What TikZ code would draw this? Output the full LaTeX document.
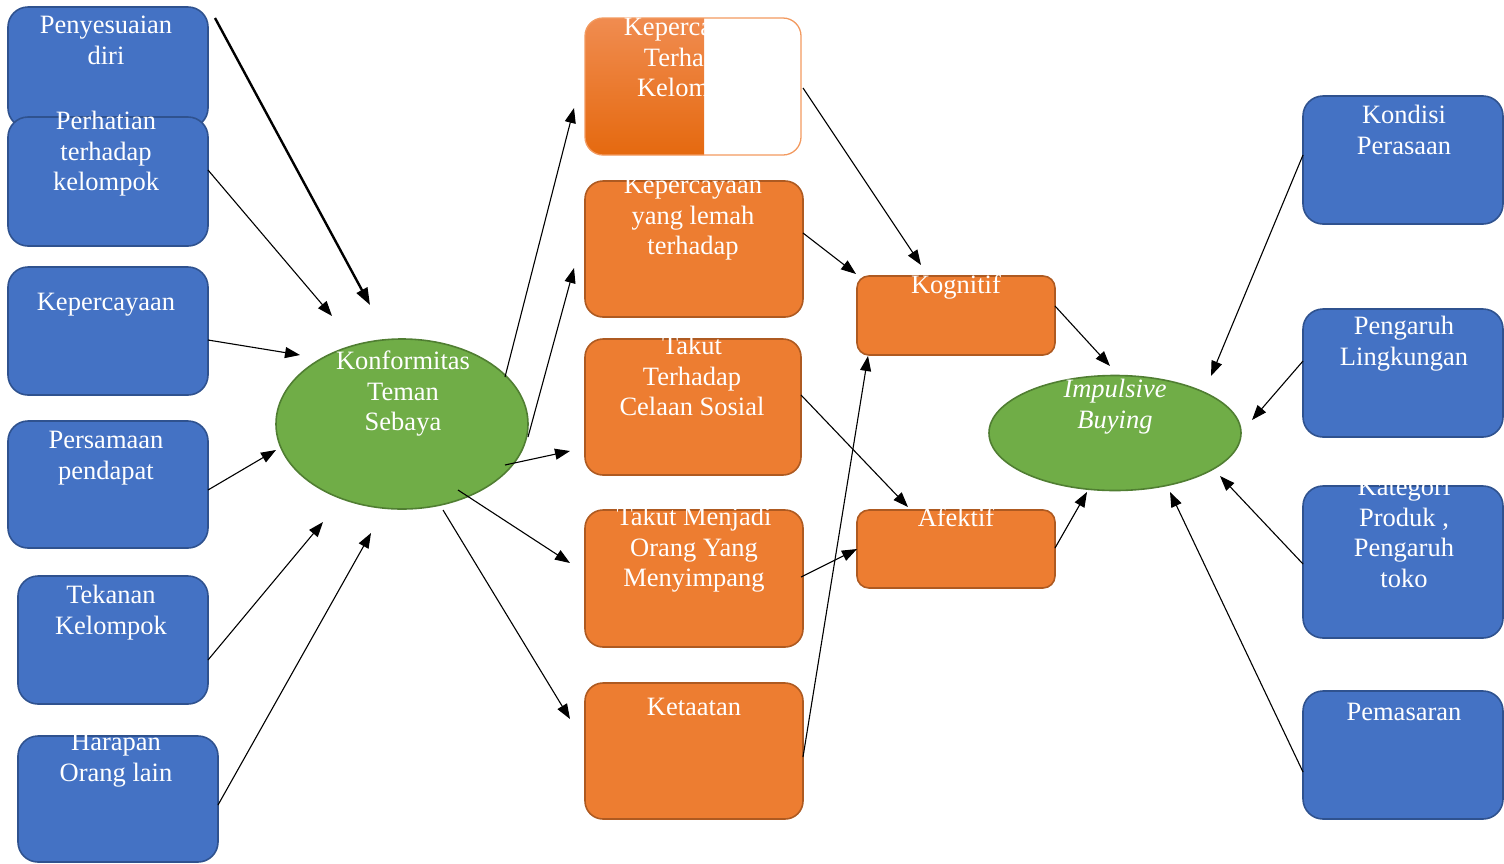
\documentclass[tikz,border=0pt]{standalone}
\usepackage{fontspec}
\setmainfont{Liberation Serif}
\usetikzlibrary{shapes.geometric,arrows.meta,calc}
\definecolor{bfill}{HTML}{4472C4}
\definecolor{bdraw}{HTML}{2F528F}
\definecolor{ofill}{HTML}{ED7D31}
\definecolor{odraw}{HTML}{AE5A21}
\definecolor{gfill}{HTML}{70AD47}
\definecolor{gdraw}{HTML}{507E32}
\definecolor{otop}{HTML}{F08C50}
\definecolor{obot}{HTML}{E5690F}
\definecolor{olite}{HTML}{F29A60}
\newcommand{\DBox}[6]{\node[#1, minimum width={#4-#2}, minimum height={#5-#3}] (#6) at ({(#2+#4)/2},{(#3+#5)/2}) {};}
\newcommand{\DClipText}[5]{\begin{scope}\clip ($(#1.north west)+(-40,-3)$) rectangle ($(#1.south east)+(40,0)$);\node[lbl] (#2) at (#3,#4) {\strut #5};\end{scope}}
\begin{document}
\begin{tikzpicture}[x=1pt,y=-1pt,
 bbox/.style={draw=bdraw, fill=bfill, line width=1.6pt, rounded corners=20pt, inner sep=0pt, outer sep=0pt},
 obox/.style={draw=odraw, fill=ofill, line width=1.6pt, rounded corners=18pt, inner sep=0pt, outer sep=0pt},
 sbox/.style={draw=odraw, fill=ofill, line width=1.6pt, rounded corners=12pt, inner sep=0pt, outer sep=0pt},
 gbox/.style={draw=olite, line width=1.3pt, rounded corners=18pt, inner sep=0pt, outer sep=0pt},
 gell/.style={ellipse, draw=gdraw, fill=gfill, line width=1.6pt, inner sep=0pt, outer sep=0pt},
 lbl/.style={anchor=north, inner sep=0pt, align=center, text=white, font=\fontsize{26.5}{30.5}\selectfont},
 arr/.style={-{Triangle[length=15pt,width=11pt]}, line width=1.1pt},
 tarr/.style={-{Triangle[length=17pt,width=12pt]}, line width=2.4pt}]
\useasboundingbox (0,0) rectangle (1504,863);

% left blue boxes
\DBox{bbox}{8}{7}{208}{128}{b1}
\DBox{bbox}{8}{117}{208}{246}{b2}
\DBox{bbox}{8}{267}{208}{395}{b3}
\DBox{bbox}{8}{421}{208}{548}{b4}
\DBox{bbox}{18}{576}{208}{704}{b5}
\DBox{bbox}{18}{736}{218}{862}{b6}

% right blue boxes
\DBox{bbox}{1303}{96}{1503}{224}{r1}
\DBox{bbox}{1303}{309}{1503}{437}{r2}
\DBox{bbox}{1303}{486}{1503}{638}{r3}
\DBox{bbox}{1303}{691}{1503}{819}{r4}

% orange boxes
\begin{scope}
\clip (580,0) rectangle (704,200);
\shade[top color=otop, bottom color=obot, rounded corners=18pt] (585,18) rectangle (801,155);
\end{scope}
\DBox{gbox}{585}{18}{801}{155}{o1}
\DBox{obox}{585}{181}{803}{317}{o2}
\DBox{obox}{585}{339}{801}{475}{o3}
\DBox{obox}{585}{510}{803}{647}{o4}
\DBox{obox}{585}{683}{803}{819}{o5}
\DBox{sbox}{857}{276}{1055}{355}{k1}
\DBox{sbox}{857}{510}{1055}{588}{k2}

% ellipses
\node[gell, minimum width=252pt, minimum height=170pt] (konf) at (402,424) {};
\node[gell, minimum width=252pt, minimum height=115pt] (imp) at (1115,433) {};

% texts
\node[lbl] (tb1) at (106,12) {\strut Penyesuaian\\diri};
\node[lbl] (tb2) at (106,108) {\strut Perhatian\\terhadap\\kelompok};
\DClipText{b3}{tb3}{106}{289}{Kepercayaan}
\DClipText{b4}{tb4}{106}{427}{Persamaan\\pendapat}
\DClipText{b5}{tb5}{111}{582}{Tekanan\\Kelompok}
\DClipText{b6}{tb6}{116}{729}{Harapan\\Orang lain}
\node[lbl] (tk) at (403,348) {\strut Konformitas\\Teman\\Sebaya};
\begin{scope}
\clip (570,16) rectangle (704,160);
\node[lbl] (to1) at (693,14) {\strut Kepercayaan\\Terhadap\\Kelompok};
\end{scope}
\DClipText{o2}{to2}{693}{172}{Kepercayaan\\yang lemah\\terhadap}
\DClipText{o3}{to3}{692}{333}{Takut\\Terhadap\\Celaan Sosial}
\DClipText{o4}{to4}{694}{504}{Takut Menjadi\\Orang Yang\\Menyimpang}
\DClipText{o5}{to5}{694}{694}{Ketaatan}
\DClipText{k1}{tk1}{956}{272}{Kognitif}
\DClipText{k2}{tk2}{956}{505}{Afektif}
\node[lbl, font=\fontsize{26.5}{30.5}\selectfont\itshape] (ti) at (1115,376) {\strut Impulsive\\Buying};
\DClipText{r1}{tr1}{1404}{102}{Kondisi\\Perasaan}
\DClipText{r2}{tr2}{1404}{313}{Pengaruh\\Lingkungan}
\DClipText{r3}{tr3}{1404}{474}{Kategori\\Produk ,\\Pengaruh\\toko}
\DClipText{r4}{tr4}{1404}{699}{Pemasaran}

% arrow end points
\coordinate (a1s) at (215,18);   \coordinate (a1e) at (370,305);
\coordinate (a2s) at (208,170);  \coordinate (a2e) at (332,316);
\coordinate (a3s) at (208,340);  \coordinate (a3e) at (300,355);
\coordinate (a4s) at (208,490);  \coordinate (a4e) at (276,450);
\coordinate (a5s) at (208,660);  \coordinate (a5e) at (323,522);
\coordinate (a6s) at (218,805);  \coordinate (a6e) at (371,533);
\coordinate (c1s) at (505,377);  \coordinate (c1e) at (574,108);
\coordinate (c2s) at (528,437);  \coordinate (c2e) at (574,268);
\coordinate (c3s) at (505,465);  \coordinate (c3e) at (570,451);
\coordinate (c4s) at (458,490);  \coordinate (c4e) at (570,563);
\coordinate (c5s) at (443,510);  \coordinate (c5e) at (570,719);
\coordinate (d1s) at (803,88);   \coordinate (d1e) at (921,265);
\coordinate (d2s) at (803,233);  \coordinate (d2e) at (856,274);
\coordinate (d3s) at (801,395);  \coordinate (d3e) at (908,507);
\coordinate (d4s) at (801,577);  \coordinate (d4e) at (857,549);
\coordinate (d5s) at (803,757);  \coordinate (d5e) at (868,356);
\coordinate (e1s) at (1055,306); \coordinate (e1e) at (1110,366);
\coordinate (e2s) at (1055,548); \coordinate (e2e) at (1087,492);
\coordinate (f1s) at (1303,155); \coordinate (f1e) at (1211,376);
\coordinate (f2s) at (1303,361); \coordinate (f2e) at (1252,420);
\coordinate (f3s) at (1303,564); \coordinate (f3e) at (1220,476);
\coordinate (f4s) at (1303,772); \coordinate (f4e) at (1170,492);

% arrows
\draw[tarr] (a1s) -- (a1e);
\foreach \n in {a2,a3,a4,a5,a6,c1,c2,c3,c4,c5,d1,d2,d3,d4,d5,e1,e2,f1,f2,f3,f4}
  \draw[arr] (\n s) -- (\n e);
\end{tikzpicture}
\end{document}
